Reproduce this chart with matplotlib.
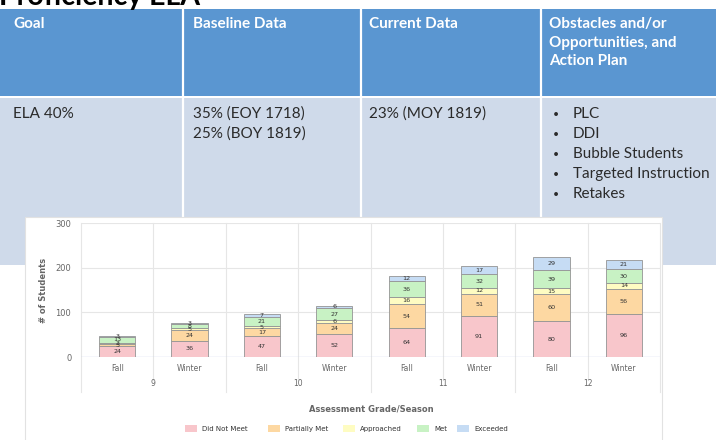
import matplotlib
matplotlib.use("Agg")
import matplotlib.pyplot as plt
import matplotlib.transforms as mtransforms
from matplotlib.patches import Rectangle

# chart data (bottom to top of each stack)
seasons = ["Fall", "Winter", "Fall", "Winter", "Fall", "Winter", "Fall", "Winter"]
grades = ["9", "10", "11", "12"]
series_names = ["Did Not Meet", "Partially Met", "Approached", "Met", "Exceeded"]
did_not_meet = [24, 36, 47, 52, 64, 91, 80, 96]
partially_met = [5, 24, 17, 24, 54, 51, 60, 56]
approached = [3, 5, 5, 6, 16, 12, 15, 14]
met = [13, 8, 21, 27, 36, 32, 39, 30]
exceeded = [3, 3, 7, 6, 12, 17, 29, 21]
series_colors = ["#f8c6cb", "#fdd8a2", "#fefcc2", "#c8f2c4", "#c6dcf4"]
y_ticks = [0, 100, 200, 300]

# slide table text
col_heads = ["Goal", "Baseline Data", "Current Data"]
obstacles_head = ["Obstacles and/or", "Opportunities, and", "Action Plan"]
goal = "ELA 40%"
baseline = ["35% (EOY 1718)", "25% (BOY 1819)"]
current = "23% (MOY 1819)"
actions = ["PLC", "DDI", "Bubble Students", "Targeted Instruction", "Retakes"]

W, H = 716, 440
fig = plt.figure(figsize=(W / 100, H / 100), dpi=100)
fig.patch.set_facecolor("white")

# background axes in pixel coordinates
bg = fig.add_axes([0, 0, 1, 1])
bg.set_xlim(0, W)
bg.set_ylim(H, 0)
bg.axis("off")

tfont = "Lato"
head_blue = "#5a96d1"
body_blue = "#cfdaea"

# slide title, mostly cut off by the top edge
bg.text(-1, 4.5, "Proficiency ELA", fontsize=20.5, fontweight="bold", family=tfont,
        va="baseline", ha="left", color="black")
bg.add_patch(Rectangle((0, 9), W, 87, facecolor=head_blue, edgecolor="none", zorder=1))
bg.add_patch(Rectangle((0, 98.5), W, 167, facecolor=body_blue, edgecolor="none", zorder=1))
for xd in [182.5, 360.5, 540.5]:
    bg.plot([xd, xd], [9, 266], color="white", lw=1.6, zorder=2)

col_x = [13, 193, 369]
for cx, t in zip(col_x, col_heads):
    bg.text(cx, 28, t, fontsize=11, fontweight="bold", family=tfont, color="white",
            va="baseline", zorder=3)
for i, t in enumerate(obstacles_head):
    bg.text(549, 28 + 18.5 * i, t, fontsize=11, fontweight="bold", family=tfont,
            color="white", va="baseline", zorder=3)

txt = "#2b2b2b"
bg.text(col_x[0], 118, goal, fontsize=11, family=tfont, color=txt, va="baseline", zorder=3)
for i, t in enumerate(baseline):
    bg.text(col_x[1], 118 + 20 * i, t, fontsize=11, family=tfont, color=txt,
            va="baseline", zorder=3)
bg.text(col_x[2], 118, current, fontsize=11, family=tfont, color=txt, va="baseline", zorder=3)
for i, t in enumerate(actions):
    bg.text(553, 117 + 20 * i, "\u2022", fontsize=7.5, family=tfont, color=txt,
            va="baseline", zorder=3)
    bg.text(573, 118 + 20 * i, t, fontsize=11, family=tfont, color=txt,
            va="baseline", zorder=3)

# white chart panel pasted over the table
bg.add_patch(Rectangle((25, 217), 637, 230, facecolor="white", edgecolor="#e2e2e2",
                       lw=0.8, zorder=5))

# chart axes
px_l, px_r, px_t, px_b = 81, 660, 223, 357
ax = fig.add_axes([px_l / W, (H - px_b) / H, (px_r - px_l) / W, (px_b - px_t) / H])
ax.patch.set_visible(False)
ax.set_xlim(-0.5, 7.5)
ax.set_ylim(0, 300)
for s in ax.spines.values():
    s.set_visible(False)

def frac(ypx):
    return (px_b - ypx) / (px_b - px_t)

trans = mtransforms.blended_transform_factory(ax.transData, ax.transAxes)
grid_c = "#e6e6e6"
for v in y_ticks[1:]:
    ax.axhline(v, color=grid_c, lw=0.8, zorder=0)
for k in range(9):
    xb = k - 0.5
    low = frac(392) if k % 2 == 0 else frac(380)
    ax.plot([xb, xb], [low, 1], color=grid_c, lw=0.8, transform=trans, clip_on=False,
            zorder=0)
ax.axhline(0, color="#ccd6eb", lw=1.0, zorder=1)

ax.set_yticks(y_ticks)
ax.set_xticks([])
ax.tick_params(axis="y", length=0, pad=7, labelsize=6, labelcolor="#666666")

xs = list(range(len(seasons)))
bottoms = [0] * len(xs)
for vals, col in zip([did_not_meet, partially_met, approached, met, exceeded], series_colors):
    ax.bar(xs, vals, 0.5, bottom=bottoms, color=col, edgecolor="#949494", linewidth=0.6,
           zorder=2)
    for x, b, v in zip(xs, bottoms, vals):
        ax.text(x, b + v / 2, str(v), fontsize=4.6, ha="center", va="center",
                color="#333333", zorder=3)
    bottoms = [b + v for b, v in zip(bottoms, vals)]

for x, s in zip(xs, seasons):
    ax.text(x, frac(368), s, fontsize=5.5, ha="center", va="center", color="#666666",
            transform=trans)
for g, lab in enumerate(grades):
    ax.text(2 * g + 0.5, frac(383), lab, fontsize=5.5, ha="center", va="center",
            color="#666666", transform=trans)

bg.text(43, 290, "# of Students", rotation=90, fontsize=6, fontweight="bold",
        color="#666666", ha="center", va="center", zorder=6)
bg.text(371, 409, "Assessment Grade/Season", fontsize=6, fontweight="bold",
        color="#666666", ha="center", va="center", zorder=6)

# legend
sw_x = [185, 268, 343, 417, 457]
for sx, name, col in zip(sw_x, series_names, series_colors):
    bg.add_patch(Rectangle((sx, 425.5), 12, 7, facecolor=col, edgecolor="none", zorder=6))
    bg.text(sx + 17, 429, name, fontsize=5, color="#333333", va="center", ha="left",
            zorder=6)

fig.savefig("out.png", dpi=100)
